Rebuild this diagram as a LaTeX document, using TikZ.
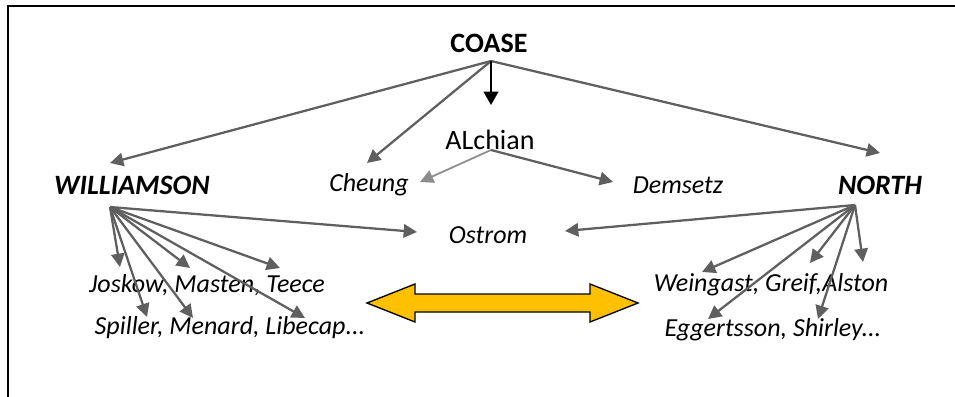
\documentclass[tikz,border=0pt]{standalone}
\usepackage{fontspec}
\setmainfont{Carlito}
\usetikzlibrary{arrows.meta}

\definecolor{linkgray}{RGB}{95,95,95}
\definecolor{softgray}{RGB}{140,140,140}
\definecolor{bridgefill}{RGB}{255,192,0}

\tikzset{
  chief/.style={inner sep=0.75pt,font=\fontsize{21}{24}\selectfont\bfseries},
  school/.style={inner sep=0.75pt,font=\fontsize{21}{24}\selectfont\bfseries\itshape},
  author/.style={inner sep=0.75pt,font=\fontsize{19.5}{23}\selectfont\itshape},
  link/.style={draw=linkgray,line width=1.7pt,-{Triangle[length=10pt,width=10pt]}},
}

\begin{document}
\begin{tikzpicture}[x=0.75pt,y=0.75pt,yscale=-1,xscale=1]
\useasboundingbox (0,0) rectangle (955,396);
%Frame
\draw[line width=1.5pt] (8,400) -- (8,6) -- (960,6);

% Names
\node[chief] (coase) at (489,43) {COASE};
\node[inner sep=0.75pt,font=\fontsize{21}{24}\selectfont] (alchian) at (490,140) {ALchian};
\node[school] (williamson) at (132,185) {WILLIAMSON};
\node[author] (cheung) at (369,185) {Cheung};
\node[author] (demsetz) at (678,185) {Demsetz};
\node[school] (north) at (880,185) {NORTH};
\node[author] (ostrom) at (488,235) {Ostrom};
\node[author] (jmt) at (207,285) {Joskow, Masten, Teece};
\node[author] (sml) at (230,328) {Spiller, Menard, Libecap...};
\node[author] (wga) at (771,285) {Weingast, Greif,Alston};
\node[author] (es) at (773,330) {Eggertsson, Shirley...};

% Fan points
\coordinate (coaseout) at (491,61);
\coordinate (alchout) at (491,150);
\coordinate (wout) at (110,207);
\coordinate (nout) at (855,205);

% Arrow tips
\coordinate (toWill) at (110,163);
\coordinate (toCheung) at (367,163);
\coordinate (toNorth) at (880,153);
\coordinate (toAlch) at (491,105);

% COASE
\draw[link] (coaseout) -- (toWill);
\draw[link] (coaseout) -- (toCheung);
\draw[link] (coaseout) -- (toNorth);
\draw[black,line width=1.6pt,-{Triangle[length=10pt,width=11pt]}] (coaseout) -- (toAlch);

% ALchian
\draw[link,draw=softgray,line width=1.3pt] (alchout) -- (420,182);
\draw[link] (alchout) -- (613,182);

% WILLIAMSON
\draw[link] (wout) -- (417,232);
\draw[link] (wout) -- (120,267);
\draw[link] (wout) -- (190,268);
\draw[link] (wout) -- (280,268);
\draw[link] (wout) -- (147,317);
\draw[link] (wout) -- (193,318);
\draw[link] (wout) -- (305,318);

% NORTH
\draw[link] (nout) -- (565,231);
\draw[link] (nout) -- (702,272);
\draw[link] (nout) -- (810,263);
\draw[link] (nout) -- (863,262);
\draw[link] (nout) -- (708,319);
\draw[link] (nout) -- (818,319);

%Double arrow
\draw[fill=bridgefill,line width=1pt,line join=miter] (367,303) -- (415,284) -- (415,294) -- (590,294) -- (590,284) -- (638,303) -- (590,322) -- (590,312) -- (415,312) -- (415,322) -- cycle;
\end{tikzpicture}
\end{document}
